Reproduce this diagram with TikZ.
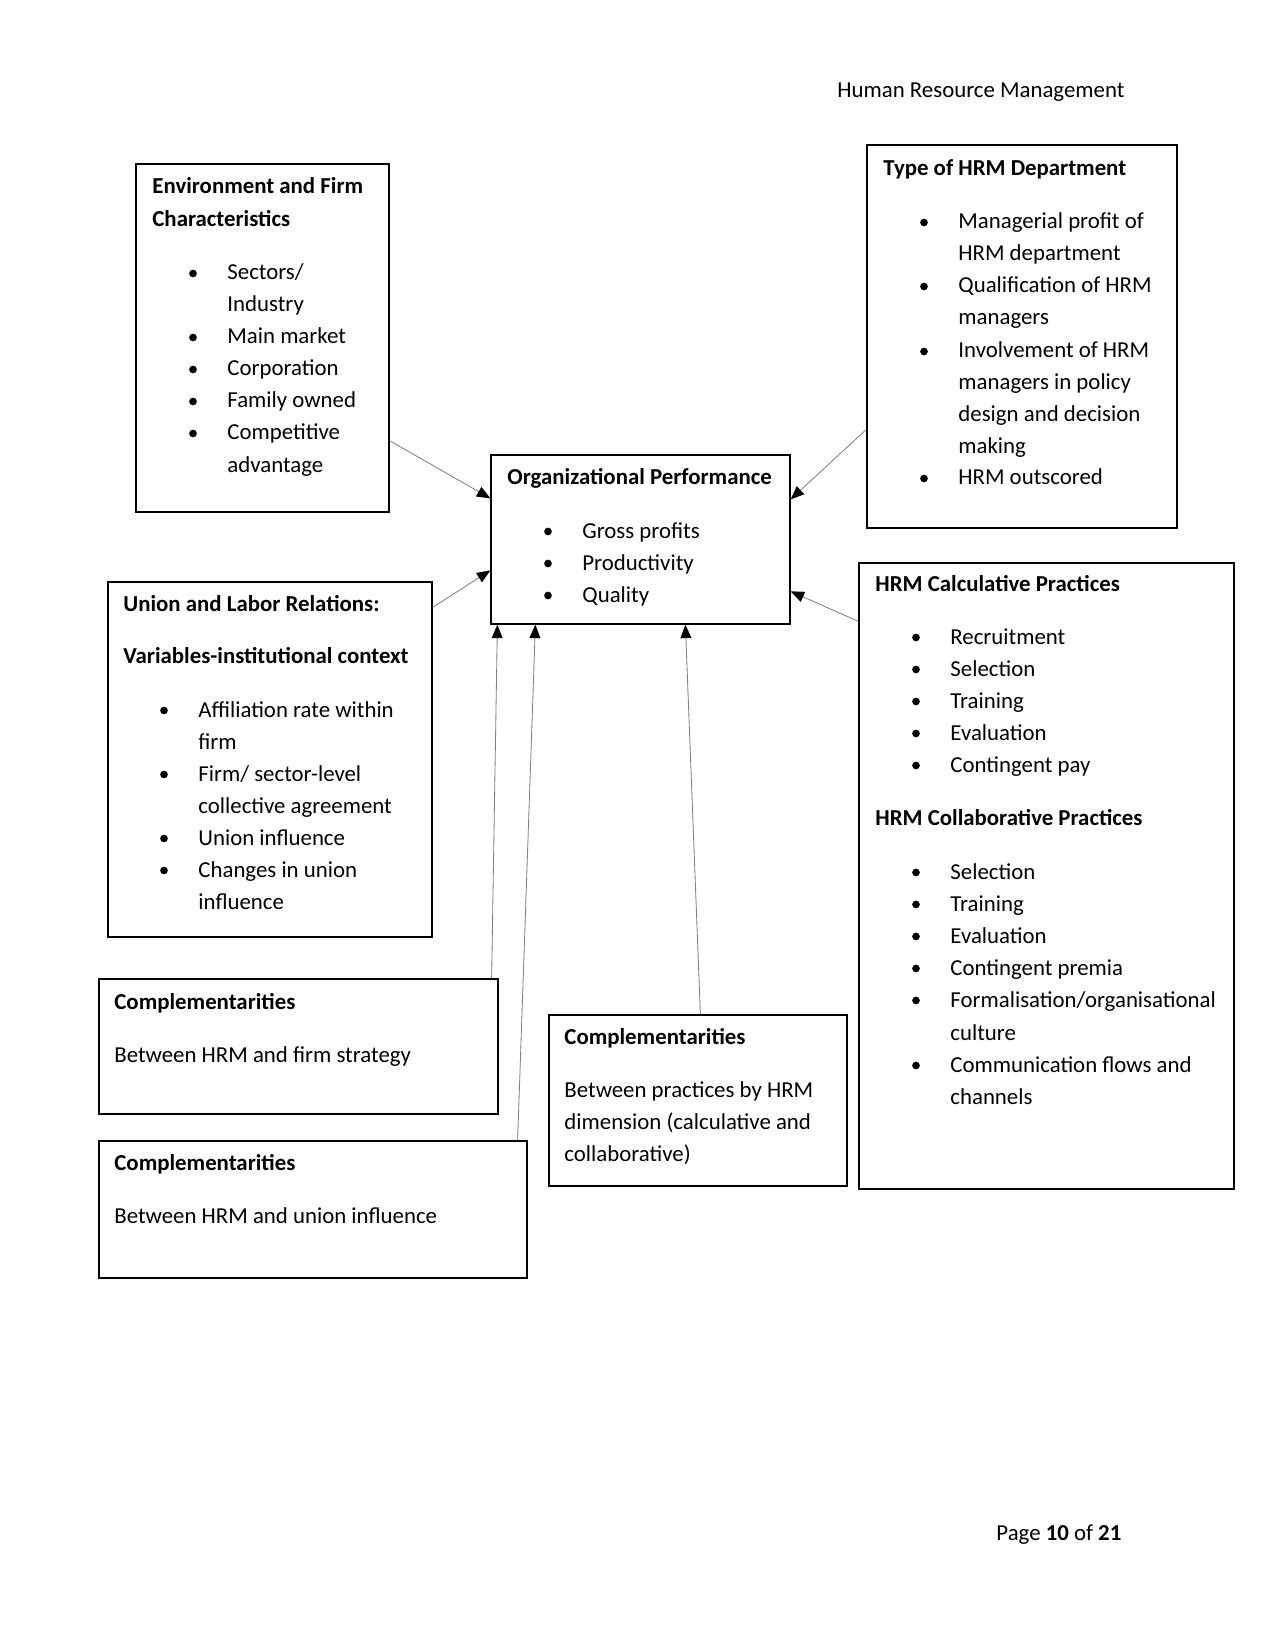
\documentclass[tikz,border=0pt]{standalone}
\usepackage{fontspec}
\setmainfont{Carlito}
\usetikzlibrary{arrows.meta,calc,fit}
\tikzset{
  box/.style={draw=black, line width=0.6pt, inner sep=0pt},
  tl/.style={anchor=base west, inner sep=0pt, font=\fontsize{11}{13}\selectfont},
  tlb/.style={tl, font=\fontsize{11}{13}\selectfont\bfseries},
  bul/.style={circle, fill=black, inner sep=0pt, minimum size=3.7pt},
  conn/.style={draw=black!50, line width=0.4pt, -{Triangle[length=6.5pt,width=5.2pt,color=black]}}
}
\newcommand\txl[4]{\node[tl] (#1) at (#2,#3) {#4};}
\newcommand\txb[4]{\node[tlb] (#1) at (#2,#3) {#4};}
\newcommand\bit[4]{\node[bul] (#1b) at (#2-34,#3-6.5) {}; \node[tl] (#1) at (#2,#3) {#4};}
\begin{document}
\begin{tikzpicture}[x=0.4818pt, y=-0.4818pt]
\fill[white] (0,0) rectangle (1275,1650);
\useasboundingbox (0,0) rectangle (1275,1650);

% header / footer
\txl{hdr}{837}{98}{Human Resource Management}
\txl{ftr}{996}{1540}{Page \textbf{10} of \textbf{21}}

% boxes
\node[box, fit={(136,164) (389,512)}] (env) {};
\node[box, fit={(867,145) (1177,528)}] (type) {};
\node[box, fit={(491,455) (790,624)}] (org) {};
\node[box, fit={(108,582) (432,937)}] (union) {};
\node[box, fit={(859,563) (1234,1189)}] (calc) {};
\node[box, fit={(99,979) (498,1114)}] (compA) {};
\node[box, fit={(99,1141) (527,1278)}] (compB) {};
\node[box, fit={(549,1015) (847,1186)}] (compC) {};

% Environment
\txb{e0}{152}{194}{Environment and Firm}
\txb{e1}{152}{227}{Characteristics}
\bit{e2}{227}{280}{Sectors/}
\txl{e3}{227}{312}{Industry}
\bit{e4}{227}{344}{Main market}
\bit{e5}{227}{376}{Corporation}
\bit{e6}{227}{408}{Family owned}
\bit{e7}{227}{440}{Competitive}
\txl{e8}{227}{473}{advantage}

% Type of HRM
\txb{t0}{883}{176}{Type of HRM Department}
\bit{t1}{958}{229}{Managerial profit of}
\txl{t2}{958}{261}{HRM department}
\bit{t3}{958}{293}{Qualification of HRM}
\txl{t4}{958}{325}{managers}
\bit{t5}{958}{358}{Involvement of HRM}
\txl{t6}{958}{390}{managers in policy}
\txl{t7}{958}{422}{design and decision}
\txl{t8}{958}{454}{making}
\bit{t9}{958}{485}{HRM outscored}

% Org performance
\txb{o0}{507}{485}{Organizational Performance}
\bit{o1}{582}{538}{Gross profits}
\bit{o2}{582}{570}{Productivity}
\bit{o3}{582}{602}{Quality}

% Union
\txb{u0}{123}{611}{Union and Labor Relations:}
\txb{u1}{123}{663}{Variables-institutional context}
\bit{u2}{198}{717}{Affiliation rate within}
\txl{u3}{198}{749}{firm}
\bit{u4}{198}{781}{Firm/ sector-level}
\txl{u5}{198}{813}{collective agreement}
\bit{u6}{198}{845}{Union influence}
\bit{u7}{198}{877}{Changes in union}
\txl{u8}{198}{909}{influence}

% HRM calculative / collaborative
\txb{c0}{875}{591}{HRM Calculative Practices}
\bit{c1}{950}{644}{Recruitment}
\bit{c2}{950}{676}{Selection}
\bit{c3}{950}{708}{Training}
\bit{c4}{950}{740}{Evaluation}
\bit{c5}{950}{772}{Contingent pay}
\txb{c6}{875}{825}{HRM Collaborative Practices}
\bit{c7}{950}{879}{Selection}
\bit{c8}{950}{911}{Training}
\bit{c9}{950}{943}{Evaluation}
\bit{c10}{950}{975}{Contingent premia}
\bit{c11}{950}{1007}{Formalisation/organisational}
\txl{c12}{950}{1040}{culture}
\bit{c13}{950}{1072}{Communication flows and}
\txl{c14}{950}{1104}{channels}

% Complementarities
\txb{a0}{114}{1009}{Complementarities}
\txl{a1}{114}{1062}{Between HRM and firm strategy}
\txb{b0}{114}{1170}{Complementarities}
\txl{b1}{114}{1223}{Between HRM and union influence}
\txb{k0}{564}{1044}{Complementarities}
\txl{k1}{564}{1097}{Between practices by HRM}
\txl{k2}{564}{1129}{dimension (calculative and}
\txl{k3}{564}{1161}{collaborative)}

% connectors
\draw[conn] ($(env.south east)+(0,-72)$) -- ($(org.north west)+(0,44)$);
\draw[conn] ($(type.north west)+(0,285)$) -- ($(org.north east)+(0,45)$);
\draw[conn] ($(union.north east)+(0,26)$) -- ($(org.north west)+(0,116)$);
\draw[conn] ($(calc.north west)+(0,59)$) -- ($(org.north east)+(0,137)$);
\draw[conn] ($(compA.north east)+(-7,0)$) -- ($(org.south west)+(7,0)$);
\draw[conn] ($(compB.north east)+(-10,0)$) -- ($(org.south west)+(45,0)$);
\draw[conn] ($(compC.north west)+(152,0)$) -- ($(org.south west)+(195,0)$);
\end{tikzpicture}
\end{document}
